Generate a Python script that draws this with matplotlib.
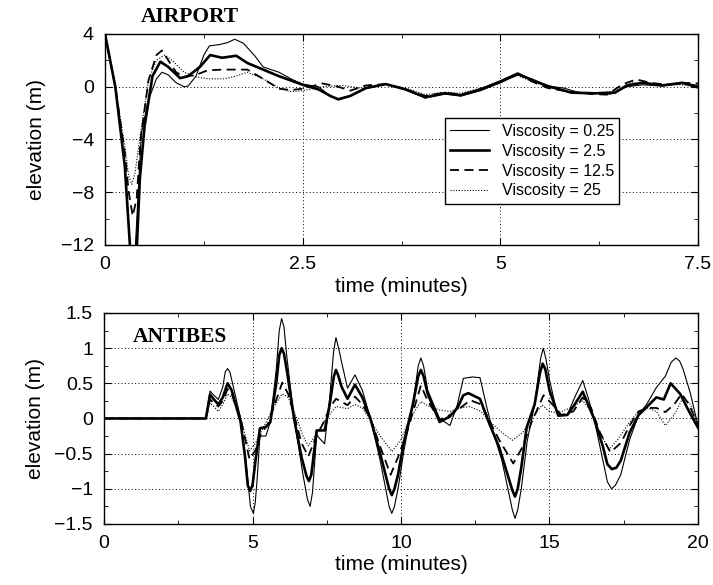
import matplotlib
matplotlib.use("Agg")
import matplotlib.pyplot as plt
from matplotlib.ticker import MultipleLocator

plt.rcParams['font.family'] = ['Liberation Sans', 'DejaVu Sans']

# ---- AIRPORT (top panel) ----
air_t_025 = [0, 0.13, 0.25, 0.32, 0.35, 0.38, 0.42, 0.46, 0.55, 0.65, 0.72, 0.8, 0.9, 1.0, 1.05, 1.15,
             1.25, 1.32, 1.45, 1.55, 1.64, 1.75, 1.9, 2.0, 2.2, 2.35, 2.5, 2.7, 2.85, 2.95, 3.1, 3.3,
             3.55, 3.8, 4.05, 4.3, 4.5, 4.75, 5.0, 5.1, 5.22, 5.4, 5.6, 5.8, 6.0, 6.2, 6.4, 6.6, 6.8,
             7.05, 7.3, 7.4, 7.5]
air_v_025 = [4, 0, -6, -12.5, -13, -12.5, -8, -3.5, -1, 0.6, 1.1, 0.9, 0.3, 0.0, 0.05, 0.8,
             2.4, 3.1, 3.2, 3.35, 3.6, 3.3, 2.3, 1.5, 1.1, 0.6, 0.2, 0.0, -0.7, -1.0, -0.7, -0.1,
             0.2, -0.2, -0.85, -0.55, -0.7, -0.3, 0.3, 0.6, 0.9, 0.6, 0.05, -0.1, -0.45, -0.5, -0.55, 0.0, 0.15,
             0.05, 0.25, 0.2, 0.1]

air_t_25 = [0, 0.13, 0.25, 0.32, 0.36, 0.40, 0.44, 0.5, 0.6, 0.7, 0.8, 0.95, 1.05, 1.2, 1.33, 1.48,
            1.66, 1.8, 2.0, 2.2, 2.5, 2.7, 2.85, 2.95, 3.1, 3.3, 3.55, 3.8, 4.05, 4.3, 4.5, 4.75,
            5.0, 5.22, 5.4, 5.6, 5.9, 6.2, 6.45, 6.6, 6.8, 7.05, 7.3, 7.5]
air_v_25 = [4, 0, -6, -12.5, -13, -12.5, -7, -3, 0.8, 1.9, 1.5, 0.65, 0.8, 1.5, 2.4, 2.2,
            2.35, 1.8, 1.3, 0.8, 0.15, -0.2, -0.7, -0.95, -0.7, -0.1, 0.2, -0.2, -0.8, -0.5, -0.65, -0.2,
            0.4, 1.0, 0.5, 0.05, -0.45, -0.5, -0.45, 0.1, 0.3, 0.1, 0.3, -0.05]

air_t_125 = [0, 0.13, 0.25, 0.3, 0.35, 0.40, 0.45, 0.55, 0.65, 0.72, 0.8, 0.9, 1.0, 1.15, 1.3, 1.5,
             1.8, 2.0, 2.2, 2.35, 2.5, 2.75, 2.95, 3.1, 3.3, 3.55, 3.8, 4.05, 4.3, 4.5, 4.75, 5.0,
             5.22, 5.4, 5.6, 5.9, 6.15, 6.35, 6.55, 6.72, 6.9, 7.1, 7.3, 7.5]
air_v_125 = [4, 0, -5, -8, -9.8, -8.5, -4, 0.5, 2.4, 2.75, 2.0, 1.1, 0.75, 0.9, 1.25, 1.3,
             1.3, 0.6, -0.15, -0.25, -0.15, 0.25, 0.0, -0.3, 0.1, 0.2, -0.2, -0.7, -0.45, -0.6, -0.2, 0.35,
             0.95, 0.4, -0.1, -0.4, -0.55, -0.6, 0.2, 0.55, 0.3, 0.15, 0.3, 0.25]

air_t_250 = [0, 0.13, 0.25, 0.3, 0.34, 0.38, 0.45, 0.55, 0.65, 0.75, 0.85, 1.0, 1.15, 1.3, 1.5, 1.65,
             1.8, 2.0, 2.2, 2.35, 2.5, 2.75, 3.0, 3.3, 3.55, 3.8, 4.05, 4.3, 4.5, 4.75, 5.0, 5.22,
             5.4, 5.6, 5.9, 6.2, 6.45, 6.65, 6.9, 7.2, 7.5]
air_v_250 = [4, 0, -4.5, -6.8, -7.4, -6.5, -3.5, 0.5, 2.0, 2.4, 2.0, 1.1, 0.75, 0.6, 0.6, 0.8,
             1.1, 0.6, -0.1, -0.37, -0.3, 0.0, 0.1, -0.15, 0.2, -0.1, -0.6, -0.4, -0.5, -0.1, 0.3, 0.85,
             0.4, 0.0, -0.4, -0.45, -0.35, 0.3, 0.2, 0.15, 0.1]

# ---- ANTIBES (bottom panel) ----
ant_t_025 = [0, 3.43, 3.57, 3.7, 3.85, 4.0, 4.08, 4.16, 4.24, 4.3,
             4.6, 4.8, 4.93, 5.03, 5.09, 5.15, 5.25, 5.45, 5.6, 5.8,
             5.9, 5.98, 6.06, 6.15, 6.4, 6.7, 6.85, 6.94, 7.02, 7.16,
             7.43, 7.6, 7.73, 7.81, 7.9, 8.0, 8.2, 8.45, 8.7, 8.97,
             9.3, 9.6, 9.69, 9.78, 9.9, 10.1, 10.4, 10.58, 10.67, 10.76,
             10.9, 11.3, 11.65, 11.9, 12.1, 12.4, 12.66, 12.9, 13.1, 13.4,
             13.75, 13.84, 13.93, 14.05, 14.25, 14.5, 14.7, 14.79, 14.88, 15.0,
             15.27, 15.6, 15.85, 16.12, 16.3, 16.5, 16.8, 16.95, 17.09, 17.22,
             17.4, 17.7, 18.0, 18.27, 18.6, 18.9, 19.1, 19.25, 19.38, 19.5,
             19.75, 20]
ant_v_025 = [0, 0, 0.39, 0.33, 0.27, 0.45, 0.66, 0.71, 0.66, 0.55,
             0.0, -0.7, -1.25, -1.35, -1.2, -0.9, -0.25, -0.25, -0.05, 0.7,
             1.25, 1.42, 1.3, 0.9, 0.0, -0.8, -1.15, -1.25, -1.05, -0.24,
             -0.36, 0.3, 0.95, 1.15, 1.0, 0.8, 0.43, 0.62, 0.4, 0.0,
             -0.6, -1.25, -1.35, -1.25, -1.0, -0.45, 0.2, 0.75, 0.86, 0.75,
             0.4, 0.0, -0.1, 0.2, 0.57, 0.59, 0.58, 0.14, -0.19, -0.6,
             -1.3, -1.42, -1.3, -1.0, -0.32, 0.2, 0.85, 1.0, 0.85, 0.55,
             0.05, 0.05, 0.3, 0.54, 0.3, 0.0, -0.6, -0.9, -1.0, -0.95,
             -0.8, -0.3, 0.05, 0.2, 0.44, 0.6, 0.8, 0.86, 0.82, 0.7,
             0.35, -0.1]

ant_t_25 = [0, 3.43, 3.57, 3.7, 3.85, 4.0, 4.16, 4.3, 4.6, 4.75,
            4.84, 4.92, 5.0, 5.1, 5.25, 5.45, 5.6, 5.8, 5.9, 5.98,
            6.06, 6.15, 6.4, 6.65, 6.82, 6.9, 6.98, 7.16, 7.43, 7.6,
            7.74, 7.81, 7.88, 8.0, 8.2, 8.45, 8.7, 8.97, 9.3, 9.6,
            9.69, 9.78, 9.9, 10.1, 10.4, 10.58, 10.67, 10.76, 10.9, 11.3,
            11.65, 11.9, 12.1, 12.27, 12.66, 12.99, 13.3, 13.75, 13.84, 13.93,
            14.05, 14.23, 14.5, 14.68, 14.77, 14.86, 15.0, 15.3, 15.6, 15.85,
            16.12, 16.3, 16.5, 16.8, 16.95, 17.1, 17.25, 17.4, 17.7, 18.0,
            18.27, 18.6, 18.85, 19.08, 19.4, 19.7, 20]
ant_v_25 = [0, 0, 0.34, 0.27, 0.2, 0.3, 0.5, 0.4, -0.05, -0.55,
            -0.95, -1.03, -0.95, -0.6, -0.14, -0.12, -0.05, 0.5, 0.9, 1.0,
            0.92, 0.7, 0.0, -0.55, -0.82, -0.89, -0.8, -0.17, -0.17, 0.2,
            0.6, 0.69, 0.62, 0.45, 0.28, 0.48, 0.3, 0.0, -0.5, -1.0,
            -1.09, -1.0, -0.8, -0.33, 0.2, 0.6, 0.69, 0.6, 0.35, -0.05,
            0.03, 0.15, 0.33, 0.36, 0.28, -0.09, -0.4, -1.02, -1.11, -1.0,
            -0.7, -0.13, 0.2, 0.65, 0.78, 0.7, 0.4, 0.04, 0.05, 0.2,
            0.38, 0.2, 0.0, -0.4, -0.65, -0.72, -0.7, -0.6, -0.2, 0.05,
            0.16, 0.3, 0.27, 0.5, 0.35, 0.1, -0.13]

ant_t_125 = [0, 3.43, 3.57, 3.7, 3.85, 4.0, 4.16, 4.3, 4.6, 4.9, 5.1, 5.3, 5.5, 5.75, 6.0, 6.2,
             6.4, 6.65, 6.88, 7.1, 7.4, 7.6, 7.81, 8.2, 8.45, 8.7, 8.97, 9.3, 9.65, 9.9, 10.2, 10.67,
             10.9, 11.3, 11.65, 12.0, 12.33, 12.7, 13.0, 13.3, 13.78, 14.1, 14.4, 14.8, 15.1, 15.4,
             15.8, 16.12, 16.4, 16.7, 17.05, 17.4, 17.7, 18.0, 18.3, 18.6, 18.9, 19.2, 19.45, 19.7, 20]
ant_v_125 = [0, 0, 0.27, 0.22, 0.17, 0.25, 0.42, 0.35, 0.0, -0.58, -0.45, -0.2, -0.1, 0.2, 0.51, 0.35,
             0.05, -0.35, -0.54, -0.3, -0.05, 0.15, 0.28, 0.19, 0.31, 0.2, 0.0, -0.4, -0.8, -0.55, -0.2, 0.47,
             0.25, -0.02, 0.05, 0.15, 0.26, 0.2, -0.05, -0.3, -0.64, -0.4, -0.05, 0.33, 0.2, 0.05,
             0.1, 0.3, 0.15, -0.2, -0.48, -0.35, -0.1, 0.1, 0.15, 0.15, 0.09, 0.2, 0.35, 0.2, -0.1]

ant_t_250 = [0, 3.43, 3.57, 3.7, 3.85, 4.0, 4.16, 4.3, 4.6, 4.9, 5.1, 5.4, 5.7, 6.0, 6.2, 6.45,
             6.7, 6.88, 7.1, 7.4, 7.81, 8.2, 8.45, 8.7, 9.0, 9.3, 9.7, 10.0, 10.3, 10.67, 10.9, 11.3,
             11.65, 12.0, 12.3, 12.7, 13.0, 13.4, 13.75, 14.1, 14.5, 14.75, 15.0, 15.3, 15.7, 16.12,
             16.4, 16.7, 17.0, 17.3, 17.7, 18.0, 18.3, 18.6, 18.9, 19.2, 19.5, 19.75, 20]
ant_v_250 = [0, 0, 0.22, 0.17, 0.1, 0.2, 0.35, 0.3, 0.0, -0.46, -0.35, -0.1, 0.15, 0.35, 0.3, 0.05,
             -0.25, -0.39, -0.25, -0.05, 0.17, 0.14, 0.2, 0.15, -0.05, -0.25, -0.47, -0.3, 0.0, 0.24, 0.18, 0.12,
             0.1, 0.15, 0.17, 0.1, -0.05, -0.2, -0.31, -0.2, 0.05, 0.19, 0.1, 0.08, 0.15, 0.25,
             0.1, -0.2, -0.44, -0.3, -0.05, 0.1, 0.15, 0.1, -0.1, 0.05, 0.3, 0.2, -0.1]

labels = ["Viscosity = 0.25", "Viscosity = 2.5", "Viscosity = 12.5", "Viscosity = 25"]
styles = [dict(lw=0.8, ls="-"), dict(lw=1.9, ls="-"),
          dict(lw=1.3, ls=(0, (5, 3))), dict(lw=0.8, ls=(0, (1, 1.5)))]


def style_axes(ax):
    ax.tick_params(which="both", direction="in", top=True, right=True, labelsize=14)
    ax.tick_params(which="major", length=5, pad=8)
    ax.tick_params(which="minor", length=3)
    ax.grid(True, which="major", color="black", ls=(0, (1, 2.5)), lw=0.7)
    for s in ax.spines.values():
        s.set_linewidth(1.0)


fig = plt.figure(figsize=(7.13, 5.85), dpi=100)

ax1 = fig.add_axes([0.1473, 0.5812, 0.8317, 0.3607])
air = [(air_t_025, air_v_025), (air_t_25, air_v_25), (air_t_125, air_v_125), (air_t_250, air_v_250)]
for (t, v), lab, st in zip(air, labels, styles):
    ax1.plot(t, v, color="black", label=lab, **st)
ax1.set_xlim(0, 7.5)
ax1.set_ylim(-12, 4)
ax1.set_xticks([0, 2.5, 5, 7.5])
ax1.set_xticklabels(["0", "2.5", "5", "7.5"])
ax1.set_yticks([-12, -8, -4, 0, 4])
ax1.xaxis.set_minor_locator(MultipleLocator(1.25))
ax1.yaxis.set_minor_locator(MultipleLocator(2))
style_axes(ax1)
ax1.set_xlabel("time (minutes)", fontsize=15, labelpad=3)
ax1.set_ylabel("elevation (m)", fontsize=15, labelpad=11)
ax1.text(0.143, 1.08, "AIRPORT", transform=ax1.transAxes, ha="center", va="center",
         fontsize=15.5, fontweight="bold", family=["Liberation Serif"])
leg = ax1.legend(loc="upper left", bbox_to_anchor=(0.573, 0.60), fontsize=11.5,
                 handlelength=2.4, fancybox=False, edgecolor="black", framealpha=1,
                 borderpad=0.35, labelspacing=0.3, handletextpad=0.8, borderaxespad=0)
leg.get_frame().set_linewidth(1.0)

ax2 = fig.add_axes([0.1459, 0.1043, 0.833, 0.3607])
ant = [(ant_t_025, ant_v_025), (ant_t_25, ant_v_25), (ant_t_125, ant_v_125), (ant_t_250, ant_v_250)]
for (t, v), lab, st in zip(ant, labels, styles):
    ax2.plot(t, v, color="black", label=lab, **st)
ax2.set_xlim(0, 20)
ax2.set_ylim(-1.5, 1.5)
ax2.set_xticks([0, 5, 10, 15, 20])
ax2.set_yticks([-1.5, -1, -0.5, 0, 0.5, 1, 1.5])
ax2.set_yticklabels(["\u22121.5", "\u22121", "\u22120.5", "0", "0.5", "1", "1.5"])
ax2.xaxis.set_minor_locator(MultipleLocator(2.5))
ax2.yaxis.set_minor_locator(MultipleLocator(0.25))
style_axes(ax2)
ax2.set_xlabel("time (minutes)", fontsize=15, labelpad=2)
ax2.set_ylabel("elevation (m)", fontsize=15, labelpad=7)
ax2.text(0.128, 0.886, "ANTIBES", transform=ax2.transAxes, ha="center", va="center",
         fontsize=15.5, fontweight="bold", family=["Liberation Serif"])

fig.savefig("out.png", dpi=100)
